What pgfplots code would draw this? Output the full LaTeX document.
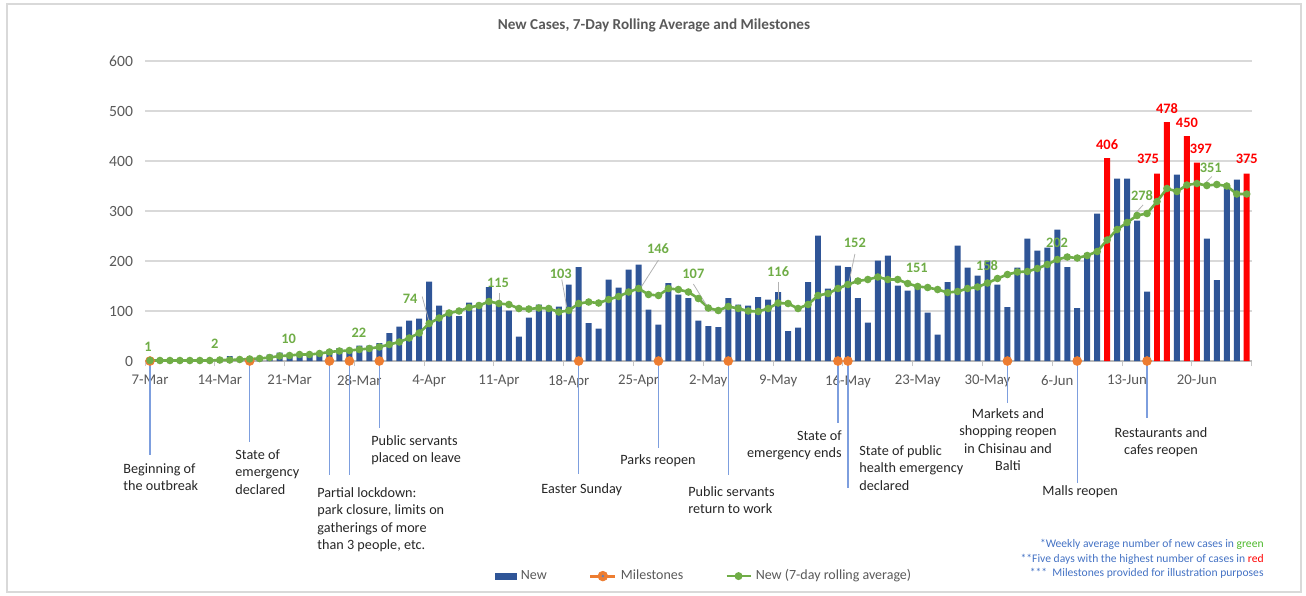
\documentclass[border=0pt]{standalone}
\usepackage{pgfplots}
\pgfplotsset{compat=1.18}
\usepackage{pgfplotstable}
\usepackage{fontspec}
\setmainfont{Carlito}
\definecolor{barblue}{HTML}{2F5597}
\definecolor{barred}{HTML}{FF0000}
\definecolor{avggreen}{HTML}{70AD47}
\definecolor{msorange}{HTML}{ED7D31}
\definecolor{msline}{RGB}{125,158,222}
\definecolor{textgray}{HTML}{595959}
\definecolor{gridgray}{HTML}{D9D9D9}
\definecolor{notegreen}{HTML}{4DB82B}
\definecolor{noteblue}{HTML}{4472C4}
\definecolor{anntext}{HTML}{262626}

\pgfplotstableread{
d v
0 1
1 0
2 0
3 2
4 1
5 0
6 3
7 2
8 10
9 4
10 3
11 6
12 13
13 17
14 12
15 12
16 10
17 14
18 22
19 26
20 20
21 31
22 31
23 36
24 56
25 69
26 81
27 85
28 159
29 111
30 98
31 90
32 117
33 111
34 148
35 120
36 101
37 49
38 87
39 113
40 101
41 109
42 153
43 188
44 76
45 65
46 163
47 147
48 183
49 193
50 103
51 73
52 156
53 133
54 126
55 81
56 70
57 68
58 126
59 113
60 111
61 128
62 123
63 138
64 60
65 67
66 158
67 251
68 145
69 191
70 188
71 126
72 77
73 201
74 211
75 151
76 141
77 148
78 97
79 53
80 158
81 231
82 187
83 171
84 201
85 153
86 108
87 187
88 245
89 221
90 227
91 263
92 188
93 106
94 216
95 295
97 365
98 365
99 281
100 139
103 373
106 245
107 162
108 352
109 363
}\bluebars

\pgfplotstableread{
d v
96 406
101 375
102 478
104 450
105 397
110 375
}\redbars

\pgfplotstableread{
d v
0 1
1 1
2 1
3 1
4 1
5 1
6 1
7 2
8 2
9 3
10 4
11 5
12 7
13 10
14 11
15 13
16 13
17 15
18 18
19 20
20 21
21 23
22 25
23 28
24 33
25 38
26 46
27 56
28 75
29 86
30 96
31 100
32 107
33 111
34 119
35 115
36 113
37 105
38 104
39 106
40 105
41 98
42 101
43 115
44 118
45 116
46 123
47 129
48 138
49 145
50 133
51 131
52 145
53 143
54 138
55 125
56 106
57 101
58 109
59 105
60 100
61 99
62 105
63 116
64 115
65 105
66 113
67 131
68 135
69 145
70 153
71 160
72 163
73 168
74 163
75 163
76 155
77 149
78 147
79 143
80 137
81 139
82 145
83 148
84 156
85 165
86 173
87 178
88 179
89 185
90 193
91 203
92 208
93 206
94 211
95 219
96 242
97 263
98 277
99 291
100 295
101 319
102 345
103 339
104 352
105 355
106 351
107 353
108 350
109 334
110 334
}\avgline

\begin{document}
\begin{tikzpicture}
\begin{scope}[x=0.5pt,y=-0.5pt]
\useasboundingbox (0,0) rectangle (1306,595);
\draw[gridgray, line width=0.6pt] (7,4) rectangle (1301,592);
\node[font=\bfseries\fontsize{7.6}{9}\selectfont, text=textgray] at (654,25) {New Cases, 7-Day Rolling Average and Milestones};
\end{scope}

\begin{axis}[
  at={(72.5pt,-180.5pt)}, anchor=south west, scale only axis,
  width=553.35pt, height=150pt,
  xmin=-0.5, xmax=110.5, ymin=0, ymax=600,
  clip=false,
  axis x line=bottom, axis y line=left,
  x axis line style={draw=gray!55, line width=0.6pt, -},
  y axis line style={draw=none},
  ytick={0,100,...,600},
  ytick style={draw=none},
  ymajorgrids, grid style={color=gridgray, line width=0.6pt},
  xtick={-0.5,6.5,...,104.5,110.5},
  xticklabels={},
  tick align=outside,
  major tick length=2.5pt,
  xtick style={draw=gray!45, line width=0.5pt},
  extra x ticks={0,7,...,105},
  extra x tick labels={7-Mar,14-Mar,21-Mar,28-Mar,4-Apr,11-Apr,18-Apr,25-Apr,2-May,9-May,16-May,23-May,30-May,6-Jun,13-Jun,20-Jun},
  extra x tick style={major tick length=0pt, grid=none},
  /pgf/number format/assume math mode=true,
  yticklabel style={font=\fontsize{7.8}{9}\selectfont, text=textgray},
  xticklabel style={font=\fontsize{7.4}{9}\selectfont, text=textgray, yshift=-3.5pt},
  legend style={at={(0.506,-0.717)}, anchor=center, legend columns=-1, draw=none, fill=none,
    font=\fontsize{7}{8}\selectfont, text=textgray,
    /tikz/every even column/.append style={column sep=19pt}},
  legend cell align=left,
]
\addplot[ybar, bar width=0.6, bar shift=0pt, fill=barblue, draw=none,
  legend image code/.code={\fill[barblue] (0pt,-1.75pt) rectangle (11pt,1.75pt);}]
  table[x=d,y=v] {\bluebars};
\addlegendentry{New}
\addplot[ybar, bar width=0.6, bar shift=0pt, fill=barred, draw=none, forget plot]
  table[x=d,y=v] {\redbars};
\addplot[only marks, mark=*, mark size=2.2pt, color=msorange,
  legend image code/.code={\draw[msorange, line width=1.6pt] (0pt,0pt) -- (12.5pt,0pt); \fill[msorange] (6.25pt,0pt) circle (2.4pt); \fill[msline!80!black] (6.25pt,0pt) circle (0.4pt);},
  error bars/.cd, y dir=minus, y explicit, error mark=none,
  error bar style={color=msline, line width=0.7pt}]
  coordinates {
  (0,0) +- (0,188)
  (10,0) +- (0,162)
  (18,0) +- (0,228)
  (20,0) +- (0,228)
  (23,0) +- (0,134)
  (43,0) +- (0,226)
  (51,0) +- (0,174)
  (58,0) +- (0,228)
  (69,0) +- (0,124)
  (70,0) +- (0,254)
  (86,0) +- (0,84)
  (93,0) +- (0,244)
  (100,0) +- (0,114)
  };
\addlegendentry{Milestones}
\addplot[color=avggreen, line width=1.3pt, mark=*, mark size=1.2pt,
  legend image code/.code={\draw[avggreen, line width=1.2pt] (0pt,0pt) -- (12pt,0pt); \fill[avggreen] (6pt,0pt) circle (1.3pt);}]
  table[x=d,y=v] {\avgline};
\addlegendentry{New (7-day rolling average)}

% rolling average labels
\begin{scope}[every node/.style={font=\bfseries\fontsize{7.2}{8}\selectfont, text=avggreen, inner sep=0pt}]
\node at (axis cs:-0.2,28) {1};
\node at (axis cs:6.5,34) {2};
\node at (axis cs:13.9,44) {10};
\node at (axis cs:20.96,56) {22};
\node at (axis cs:26.1,124) {74};
\node at (axis cs:34.9,156) {115};
\node at (axis cs:41.2,174) {103};
\node at (axis cs:50.95,224) {146};
\node at (axis cs:54.5,174) {107};
\node at (axis cs:63,178) {116};
\node at (axis cs:70.7,236) {152};
\node at (axis cs:76.9,186) {151};
\node at (axis cs:83.95,190) {158};
\node at (axis cs:90.97,236) {202};
\node at (axis cs:99.5,330) {278};
\node at (axis cs:106.4,386) {351};
\end{scope}
\begin{scope}[gray!60, line width=0.4pt]
\draw (axis cs:27.3,129) -- (axis cs:28,78);
\draw (axis cs:35,137) -- (axis cs:35,121);
\draw (axis cs:41.3,163) -- (axis cs:41.8,108);
\draw (axis cs:51.0,202) -- (axis cs:49.3,149);
\draw (axis cs:54.5,154) -- (axis cs:55.8,112);
\draw (axis cs:63.0,159) -- (axis cs:63.0,122);
\draw (axis cs:70.7,214) -- (axis cs:70.1,157);
\draw (axis cs:99.6,312) -- (axis cs:98.8,295);
\draw (axis cs:106.5,369) -- (axis cs:105.8,355);
\end{scope}
% top five labels
\begin{scope}[every node/.style={font=\bfseries\fontsize{7.2}{8}\selectfont, text=barred, inner sep=0pt}]
\node at (axis cs:96.0,432) {406};
\node at (axis cs:100.1,404) {375};
\node at (axis cs:102.0,504) {478};
\node at (axis cs:104.0,476) {450};
\node at (axis cs:105.4,424) {397};
\node at (axis cs:110.0,404) {375};
\end{scope}
\end{axis}

\begin{scope}[x=0.5pt,y=-0.5pt, every node/.style={font=\fontsize{7.1}{8.75}\selectfont, text=anntext, inner sep=0pt}]
\node[anchor=north west, align=left] at (123,463) {Beginning of\\the outbreak};
\node[anchor=north west, align=left] at (235,449) {State of\\emergency\\declared};
\node[anchor=north west, align=left] at (317,487) {Partial lockdown:\\park closure, limits on\\gatherings of more\\than 3 people, etc.};
\node[anchor=north west, align=left] at (371,435) {Public servants\\placed on leave};
\node[anchor=north west, align=left] at (541,483) {Easter Sunday};
\node[anchor=north west, align=left] at (620,454) {Parks reopen};
\node[anchor=north west, align=left] at (688,486) {Public servants\\return to work};
\node[anchor=north east, align=right] at (842,430) {State of\\emergency ends};
\node[anchor=north west, align=left] at (859,445) {State of public\\health emergency\\declared};
\node[anchor=north, align=center] at (1008,408) {Markets and\\shopping reopen\\in Chisinau and\\Balti};
\node[anchor=north west, align=left] at (1042,485) {Malls reopen};
\node[anchor=north, align=center] at (1161,427) {Restaurants and\\cafes reopen};
\node[anchor=north east, align=right, font=\fontsize{5.8}{7.25}\selectfont, text=noteblue] at (1264,539)
  {*Weekly average number of new cases in \textcolor{notegreen}{green}\\**Five days with the highest number of cases in \textcolor{barred}{red}\\***\ \ Milestones provided for illustration purposes};
\end{scope}
\end{tikzpicture}
\end{document}
